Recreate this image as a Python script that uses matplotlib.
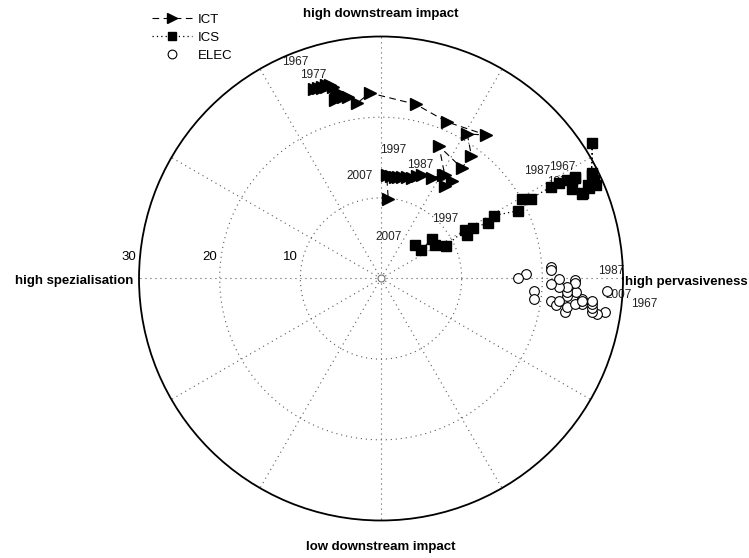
'''
Polar chart: ICT, ICS and ELEC 1967-2007
'''

import numpy as np
import matplotlib.pyplot as plt

plt.rcParams['font.family'] = ['Liberation Sans', 'DejaVu Sans']

# x = pervasiveness (+) vs spezialisation (-), y = downstream impact
ict_perv = [-8.3, -7.8, -7.3, -6.8, -6.3, -5.9, -5.4, -5.1, -5.7, -6.8, -7.3, -4.7,
            -4.1, -3.0, -1.4, 4.3, 8.2, 13.0, 10.7, 11.2, 10.0, 7.2, 7.9, 8.8, 7.9,
            7.7, 6.3, 5.1, 4.4, 3.8, 3.2, 2.6, 2.1, 1.7, 1.2, 0.7, 0.9]
ict_down = [23.5, 23.6, 23.8, 24.0, 24.0, 23.7, 23.1, 22.6, 22.1, 23.7, 23.6, 22.5,
            22.5, 21.7, 23.0, 21.6, 19.4, 17.8, 17.9, 15.2, 13.7, 16.4, 12.8, 12.1, 11.5,
            12.8, 12.5, 12.8, 12.7, 12.5, 12.6, 12.6, 12.6, 12.6, 12.7, 12.8, 9.8]

ics_perv = [24.1, 23.0, 23.7, 25.1, 25.8, 26.7, 26.4, 26.1, 26.2, 26.1, 25.6, 24.9,
            24.0, 22.1, 21.1, 18.6, 17.5, 17.0, 14.0, 13.3, 11.4, 10.6, 10.4, 8.0,
            6.7, 6.3, 4.9, 4.2]
ics_down = [12.6, 12.2, 11.1, 10.6, 11.2, 11.6, 12.2, 12.8, 16.8, 13.1, 11.6, 10.5,
            12.5, 11.9, 11.4, 9.9, 9.9, 8.4, 7.8, 6.9, 6.3, 5.4, 6.0, 4.0,
            4.2, 4.9, 3.5, 4.2]

elec_perv = [27.8, 26.8, 26.1, 26.1, 26.1, 26.1, 24.9, 24.9, 24.2, 24.1, 24.0, 23.1,
             23.1, 23.0, 22.1, 22.1, 21.1, 21.1, 21.1, 18.0, 17.0, 19.0, 19.0, 21.1,
             21.7, 22.1, 22.8, 23.0, 24.0, 24.9, 28.0]
elec_down = [-4.2, -4.4, -4.1, -3.6, -3.2, -2.8, -3.2, -2.5, -1.7, -0.2, -0.5, -2.2,
             -1.7, -1.0, -1.0, -0.1, -0.7, 1.4, 1.1, 0.5, 0.0, -1.6, -2.5, -2.8,
             -3.3, -2.8, -4.2, -3.5, -3.2, -2.8, -1.6]

# year labels (text, pervasiveness, downstream)
year_text = ['1967', '1977', '1987', '1997', '2007',
             '1967', '1977', '1987', '1997', '2007',
             '1967', '1987', '2007']
year_perv = [-10.6, -8.4, 4.8, 1.5, -2.6,
             22.5, 22.2, 19.4, 8.0, 1.0,
             32.6, 28.5, 29.5]
year_down = [26.8, 25.2, 14.1, 15.9, 12.7,
             13.8, 12.0, 13.3, 7.4, 5.1,
             -3.2, 0.9, -2.0]

rings = [10, 20]
ring_labels = [10, 20, 30]
r_max = 30


def to_polar(x, y):
    x = np.array(x)
    y = np.array(y)
    return np.arctan2(y, x), np.hypot(x, y)


def main():
    fig = plt.figure(figsize=(7.49, 5.58), dpi=100)
    ax = fig.add_axes([0.1856, 0.0663, 0.6462, 0.8692], projection='polar')
    ax.set_ylim(0, r_max)
    ax.grid(False)
    ax.set_xticks([])
    ax.set_yticks([])
    ax.spines['polar'].set_linewidth(1.3)
    ax.spines['polar'].set_color('black')

    grid_style = dict(color='0.35', lw=0.8, ls=(0, (1, 3.5)), zorder=0)
    full = np.linspace(0, 2 * np.pi, 400)
    for r in rings:
        ax.plot(full, np.full_like(full, r), **grid_style)
    for a in range(0, 360, 30):
        ax.plot([np.radians(a)] * 2, [0, r_max], **grid_style)
    ax.plot([0], [0], 'o', mfc='white', mec='0.45', ms=5, mew=0.8, zorder=1)

    for r in ring_labels:
        ax.annotate(str(r), xy=(np.pi, r), xytext=(-2, 11), textcoords='offset points',
                    ha='right', va='bottom', fontsize=9.5)

    th, rr = to_polar(ict_perv, ict_down)
    ax.plot(th, rr, color='black', ls=(0, (6, 4)), lw=0.8, marker='>', ms=8,
            mfc='black', mec='black', label='ICT', clip_on=False, zorder=3)
    th, rr = to_polar(ics_perv, ics_down)
    ax.plot(th, rr, color='black', ls=(0, (1, 2.5)), lw=0.9, marker='s', ms=7,
            mfc='black', mec='black', label='ICS', clip_on=False, zorder=3)
    th, rr = to_polar(elec_perv, elec_down)
    ax.plot(th, rr, ls='none', marker='o', ms=7, mfc='white', mec='black', mew=0.8,
            label='ELEC', clip_on=False, zorder=3)

    th, rr = to_polar(year_perv, year_down)
    for t, a, r in zip(year_text, th, rr):
        ax.text(a, r, t, ha='center', va='center', fontsize=8.5, color='#222222', zorder=2)

    bold = dict(fontsize=9.5, fontweight='bold', transform=ax.transAxes)
    ax.text(0.5, 1.0475, 'high downstream impact', ha='center', va='center', **bold)
    ax.text(0.5, -0.0557, 'low downstream impact', ha='center', va='center', **bold)
    ax.text(-0.0124, 0.4948, 'high spezialisation', ha='right', va='center', **bold)
    ax.text(1.004, 0.493, 'high pervasiveness', ha='left', va='center', **bold)

    ax.legend(loc='upper left', bbox_to_anchor=(0.203, 0.976), bbox_transform=fig.transFigure,
              frameon=False, fontsize=9.5, handlelength=3.0, handletextpad=0.5,
              labelspacing=0.45, borderpad=0, borderaxespad=0, markerscale=0.9)

    fig.savefig('out.png', dpi=100)


if __name__ == "__main__":
    main()
